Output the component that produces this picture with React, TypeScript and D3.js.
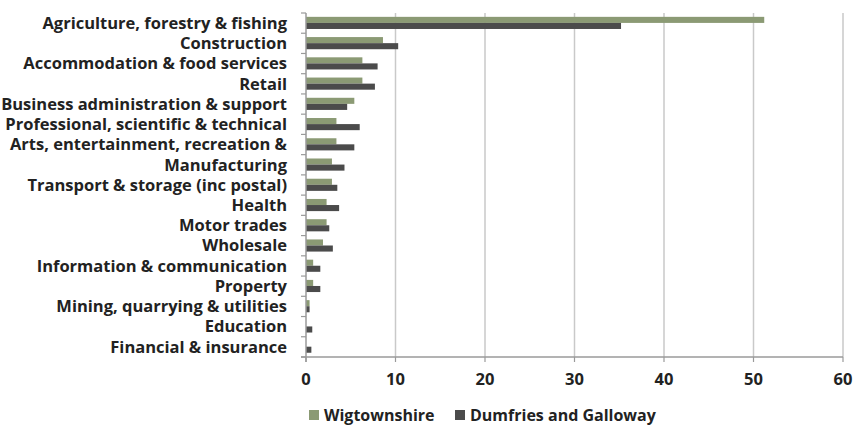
import React, { useEffect, useRef } from "react";
import * as d3 from "d3";

const categories = [
    "Agriculture, forestry & fishing",
    "Construction",
    "Accommodation & food services",
    "Retail",
    "Business administration & support",
    "Professional, scientific & technical",
    "Arts, entertainment, recreation &",
    "Manufacturing",
    "Transport & storage (inc postal)",
    "Health",
    "Motor trades",
    "Wholesale",
    "Information & communication",
    "Property",
    "Mining, quarrying & utilities",
    "Education",
    "Financial & insurance"
];

const wigtownshire = [51.2, 8.6, 6.3, 6.3, 5.4, 3.4, 3.4, 2.9, 2.9, 2.3, 2.3, 1.9, 0.8, 0.8, 0.4, 0, 0];
const dumfriesGalloway = [35.2, 10.3, 8.0, 7.7, 4.6, 6.0, 5.4, 4.3, 3.5, 3.7, 2.6, 3.0, 1.6, 1.6, 0.4, 0.7, 0.6];

const seriesNames = ["Wigtownshire", "Dumfries and Galloway"];
const xTicks = [0, 10, 20, 30, 40, 50, 60];

const colors = ["#8b9a74", "#4b4b4b"];

export default function App() {
    const svgRef = useRef(null);
    const width = 853;
    const height = 426;

    useEffect(() => {
        const margin = { top: 13, right: 10, bottom: 69, left: 306 };
        const font = "'Open Sans', sans-serif";
        const fontSize = "16.5px";

        const svg = d3.select(svgRef.current);
        svg.selectAll("*").remove();

        const x = d3.scaleLinear()
            .domain([0, 60])
            .range([margin.left, 843]);

        const y = d3.scaleBand()
            .domain(categories)
            .range([margin.top, height - margin.bottom])
            .paddingInner(0)
            .paddingOuter(0);

        const inner = d3.scaleBand()
            .domain(seriesNames)
            .range([y.bandwidth() * 0.19, y.bandwidth() * 0.79]);

        // gridlines
        svg.append("g")
            .selectAll("line")
            .data(xTicks.slice(1))
            .join("line")
            .attr("x1", d => x(d))
            .attr("x2", d => x(d))
            .attr("y1", margin.top)
            .attr("y2", height - margin.bottom)
            .attr("stroke", "#c9c9c9")
            .attr("stroke-width", 1.5);

        // bars
        const rows = categories.map((c, i) => ({
            cat: c,
            vals: [wigtownshire[i], dumfriesGalloway[i]]
        }));

        const g = svg.append("g")
            .selectAll("g")
            .data(rows)
            .join("g")
            .attr("transform", d => `translate(0,${y(d.cat)})`);

        g.selectAll("rect")
            .data(d => d.vals.map((v, k) => ({ v, k })))
            .join("rect")
            .attr("x", x(0))
            .attr("y", d => inner(seriesNames[d.k]))
            .attr("width", d => x(d.v) - x(0))
            .attr("height", inner.bandwidth())
            .attr("fill", d => colors[d.k]);

        // left axis
        const yAxis = svg.append("g")
            .attr("transform", `translate(${margin.left},0)`);
        yAxis.append("line")
            .attr("x1", 0).attr("x2", 0)
            .attr("y1", margin.top).attr("y2", height - margin.bottom + 5)
            .attr("stroke", "#9a9a9a")
            .attr("stroke-width", 1.5);
        yAxis.selectAll(".tick")
            .data(d3.range(categories.length + 1))
            .join("line")
            .attr("x1", -5).attr("x2", 0)
            .attr("y1", i => margin.top + i * y.step())
            .attr("y2", i => margin.top + i * y.step())
            .attr("stroke", "#9a9a9a")
            .attr("stroke-width", 1.2);
        svg.append("g")
            .selectAll("text")
            .data(categories)
            .join("text")
            .attr("x", 287)
            .attr("y", d => y(d) + y.bandwidth() / 2)
            .attr("dy", "0.35em")
            .attr("text-anchor", "end")
            .style("font-family", font)
            .style("font-weight", "bold")
            .style("font-size", fontSize)
            .attr("fill", "#222")
            .text(d => d);

        // bottom axis
        const xAxis = svg.append("g")
            .attr("transform", `translate(0,${height - margin.bottom})`);
        xAxis.append("line")
            .attr("x1", margin.left - 5).attr("x2", x(60))
            .attr("stroke", "#9a9a9a")
            .attr("stroke-width", 1.5);
        xAxis.selectAll("line.tk")
            .data(xTicks)
            .join("line")
            .attr("class", "tk")
            .attr("x1", d => x(d)).attr("x2", d => x(d))
            .attr("y1", 0).attr("y2", 5)
            .attr("stroke", "#9a9a9a")
            .attr("stroke-width", 1.2);
        xAxis.selectAll("text")
            .data(xTicks)
            .join("text")
            .attr("x", d => x(d))
            .attr("y", 28)
            .attr("text-anchor", "middle")
            .style("font-family", font)
            .style("font-weight", "bold")
            .style("font-size", fontSize)
            .attr("fill", "#222")
            .text(d => d);

        // legend
        const legendItems = [
            { name: seriesNames[0], color: colors[0], x: 309 },
            { name: seriesNames[1], color: colors[1], x: 455 }
        ];
        const lg = svg.append("g")
            .selectAll("g")
            .data(legendItems)
            .join("g")
            .attr("transform", d => `translate(${d.x},0)`);
        lg.append("rect")
            .attr("x", 0).attr("y", 410)
            .attr("width", 10).attr("height", 10)
            .attr("fill", d => d.color);
        lg.append("text")
            .attr("x", 15).attr("y", 421)
            .style("font-family", font)
            .style("font-weight", "bold")
            .style("font-size", "16px")
            .attr("fill", "#222")
            .text(d => d.name);
    }, []);

    return (
        <svg
            ref={svgRef}
            width={width}
            height={height}
            style={{ position: "absolute", left: 0, top: 0, background: "#fff" }}
        />
    );
}
